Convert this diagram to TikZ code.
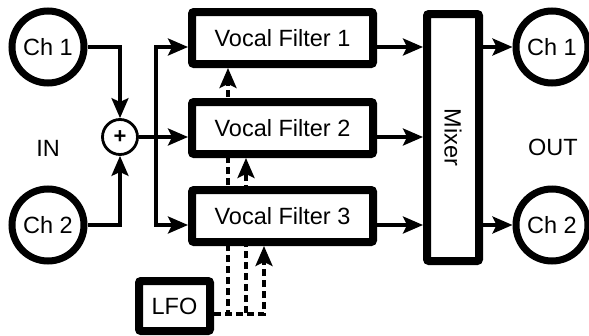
\documentclass[tikz,border=0pt]{standalone}
\usepackage{fontspec}
\setmainfont{Liberation Sans}
\usetikzlibrary{arrows.meta,positioning,backgrounds}

\begin{document}
\begin{tikzpicture}[x=1pt,y=-1pt,font=\fontsize{23.5}{28}\selectfont, box/.style={draw,line width=8pt,fill=white,rounded corners=2pt,inner sep=0pt,minimum width=181pt,minimum height=52pt}, chan/.style={draw,circle,line width=7pt,fill=white,inner sep=0pt,minimum size=72pt}, sum/.style={draw,circle,line width=2.8pt,inner sep=0pt,minimum size=35pt,font=\fontsize{22}{22}\selectfont\bfseries}, wire/.style={line width=3.3pt}, lfo/.style={line width=3.3pt,dash pattern=on 7pt off 4pt}, >={Stealth[length=20pt,width=17pt,inset=4pt]}]
\useasboundingbox (0,0) rectangle (589,335);
\node[chan] (I1) at (48,47) {Ch 1};
\node[chan] (I2) at (48,225) {Ch 2};
\node (IN) at (48,148) {IN};
\node[sum] (S) at (120,137) {+};
\coordinate (B) at (156,137);
\node[box] (V1) at (282.5,38) {Vocal Filter 1};
\node[box] (V2) at (282.5,128) {Vocal Filter 2};
\node[box] (V3) at (282.5,216) {Vocal Filter 3};
\node[box,minimum width=52pt,minimum height=247pt] (M) at (453,137.5) {\rotatebox{-90}{Mixer}};
\node[chan] (O1) at (552,47) {Ch 1};
\node[chan] (O2) at (552,225) {Ch 2};
\node (OUT) at (553,147) {OUT};
\node[box,minimum width=71pt,minimum height=50pt] (L) at (174.5,306) {LFO};
\draw[wire,->] (I1) -| (S);
\draw[wire,->] (I2) -| (S);
\draw[wire,->] (S) -- ([yshift=-9pt]V2.west);
\draw[wire,->] (B) |- ([yshift=-9pt]V1.west);
\draw[wire,->] (B) |- ([yshift=-9pt]V3.west);
\draw[wire,->] ([yshift=-9pt]V1.east) -- (M.west |- O1);
\draw[wire,->] ([yshift=-9pt]V2.east) -- (M.west |- S);
\draw[wire,->] ([yshift=-9pt]V3.east) -- (M.west |- O2);
\draw[wire,->] (M.east |- O1) -- (O1);
\draw[wire,->] (M.east |- O2) -- (O2);
\begin{scope}[on background layer]
\draw[lfo,->] ([yshift=-8pt]L.east) -| ([xshift=-54.5pt]V1.south);
\draw[lfo,->] ([yshift=-8pt]L.east) -| ([xshift=-36.5pt]V2.south);
\draw[lfo,->] ([yshift=-8pt]L.east) -| ([xshift=-18.5pt]V3.south);
\end{scope}
\end{tikzpicture}
\end{document}
